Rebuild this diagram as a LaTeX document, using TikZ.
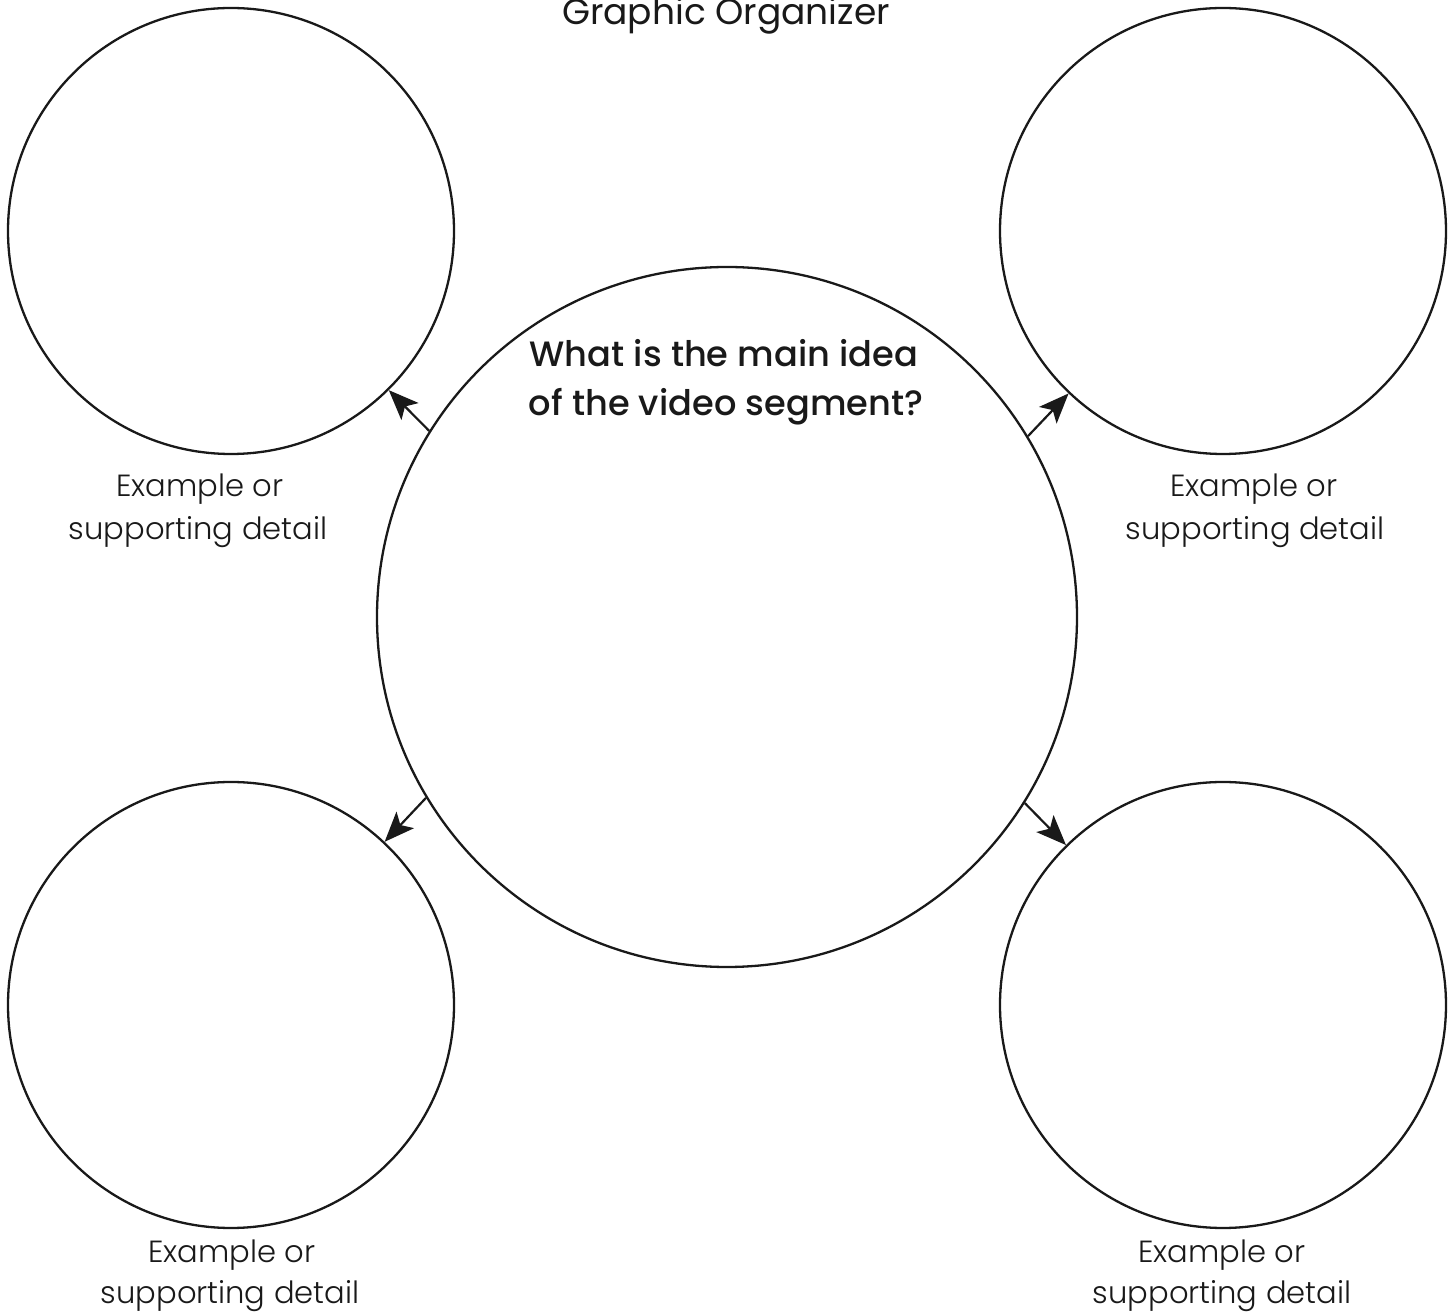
\documentclass[tikz,border=0pt]{standalone}
\usepackage{fontspec}
\setmainfont{Poppins}
\newfontfamily\labfont{Poppins Light}
\newfontfamily\qfont{Poppins Medium}
\usetikzlibrary{arrows.meta}
\begin{document}
\begin{tikzpicture}[x=0.5pt,y=-0.5pt,
  bubble/.style={circle,draw=black!90,line width=1.15pt,inner sep=0pt},
  small/.style={bubble,minimum size=223pt},
  big/.style={bubble,minimum size=350pt},
  arr/.style={line width=1.1pt,draw=black!90,-{Stealth[length=15pt,width=12pt,inset=3.5pt]}},
  lab/.style={anchor=base,inner sep=0pt,font=\labfont\fontsize{15.3pt}{19pt}\selectfont,text=black!90},
  ques/.style={anchor=base,inner sep=0pt,font=\qfont\fontsize{17.6pt}{22pt}\selectfont,text=black!90},
  ttl/.style={anchor=base,inner sep=0pt,font=\fontsize{18pt}{22pt}\selectfont,text=black!90}]
\useasboundingbox (0,0) rectangle (1453,1315);
\node[ttl] (title) at (726,25) {Graphic Organizer};
\node[big] (c) at (727,617) {};
\node[small] (tl) at (231,231) {};
\node[small] (tr) at (1223,231) {};
\node[small] (bl) at (231,1005) {};
\node[small] (br) at (1223,1005) {};
\node[ques] (q1) at (724,367) {What is the main idea};
\node[ques] (q2) at (726,416) {of the video segment?};
\draw[arr] (c.148.6) -- (tl);
\draw[arr] (c.31.4) -- (tr);
\draw[arr] (c.211.5) -- (bl);
\draw[arr] (c.328.5) -- (br);
\node[lab] (tla) at (200,497) {Example or};
\node[lab] (tlb) at (198,540) {supporting detail};
\node[lab] (tra) at (1254,497) {Example or};
\node[lab] (trb) at (1255,540) {supporting detail};
\node[lab] (bla) at (232,1262) {Example or};
\node[lab] (blb) at (230,1303) {supporting detail};
\node[lab] (bra) at (1222,1262) {Example or};
\node[lab] (brb) at (1222,1303) {supporting detail};
\end{tikzpicture}
\end{document}
